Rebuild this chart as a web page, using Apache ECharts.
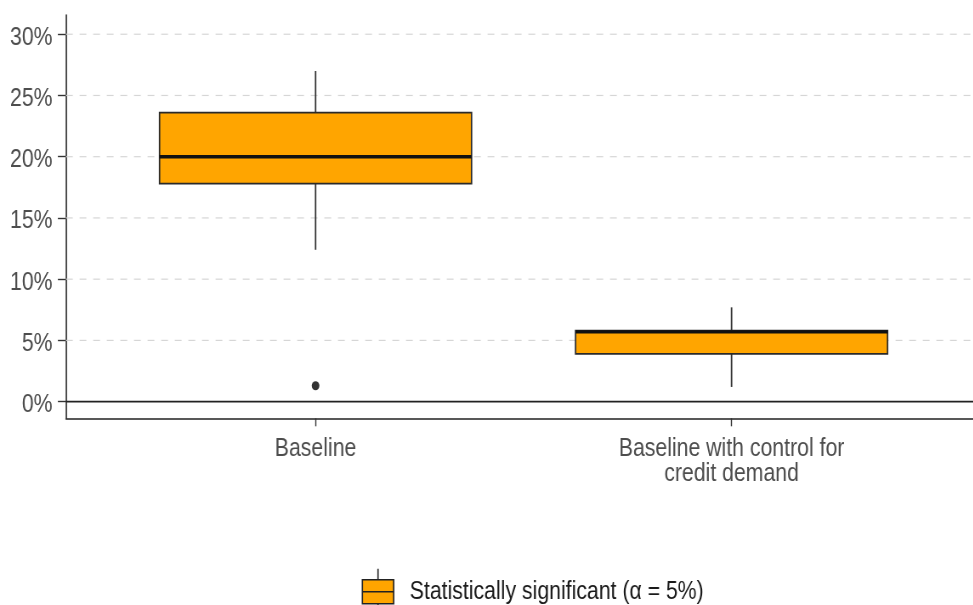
<!DOCTYPE html>
<html>
<head>
<meta charset="utf-8">
<script src="https://cdn.jsdelivr.net/npm/echarts@6/dist/echarts.min.js"></script>
<style>
  html, body { margin: 0; padding: 0; width: 973px; height: 605px; overflow: hidden; background: #fff; }
  /* the figure is drawn on a wider canvas and condensed horizontally */
  #chart { width: 1170px; height: 605px; transform: scaleX(0.85); transform-origin: 0 0; }
</style>
</head>
<body>
<div id="chart"></div>
<script>
// Categories on the x axis
const categories = ['Baseline', 'Baseline with control for\ncredit demand'];
// Box statistics per category, in %: [lower whisker, Q1, median, Q3, upper whisker]
const baselineStats = [12.4, 17.8, 20.0, 23.6, 27.0];
const creditDemandStats = [1.2, 3.9, 5.7, 5.8, 7.7];
// Outlying estimates: [category position, value %]
const outlierPoints = [[1, 1.3]];
// Y axis tick values (%)
const yTicks = [0, 5, 10, 15, 20, 25, 30];
const seriesName = 'Statistically significant (\u03b1 = 5%)';

const FONT = '"Liberation Sans", Arial, sans-serif';
const ORANGE = '#FFA500';
const X_MIN = 0.4, X_MAX = 2.6;

const boxData = [baselineStats, creditDemandStats].map((s, i) => [i + 1].concat(s));

const chart = echarts.init(document.getElementById('chart'));

chart.setOption({
  animation: false,
  backgroundColor: '#ffffff',
  grid: { left: 77.6, top: 15, width: 1076.7, height: 403.3, containLabel: false },
  xAxis: {
    type: 'value',
    min: X_MIN,
    max: X_MAX,
    axisLine: { show: true, onZero: false, lineStyle: { color: '#222', width: 1.6 } },
    axisTick: { show: true, customValues: [1, 2], length: 8, lineStyle: { color: '#333', width: 1.4 } },
    axisLabel: {
      show: true,
      customValues: [1, 2],
      formatter: v => categories[Math.round(v) - 1] || '',
      margin: 18,
      fontFamily: FONT,
      fontSize: 25,
      lineHeight: 25,
      color: '#4d4d4d',
      align: 'center'
    },
    splitLine: { show: false }
  },
  yAxis: {
    type: 'value',
    min: -1.36,
    max: 31.57,
    axisLine: { show: true, onZero: false, lineStyle: { color: '#222', width: 1.6 } },
    axisTick: { show: true, customValues: yTicks, length: 9.5, lineStyle: { color: '#333', width: 1.4 } },
    axisLabel: {
      show: true,
      customValues: yTicks,
      formatter: v => '{t|' + v + '%}',
      margin: 15.8,
      rich: {
        t: { fontFamily: FONT, fontSize: 25, color: '#4d4d4d', padding: [7, 0, 0, 0] }
      }
    },
    splitLine: { show: false }
  },
  legend: {
    left: 425.5,
    top: 568,
    padding: 0,
    itemWidth: 36.8,
    itemHeight: 46,
    selectedMode: false,
    data: [{
      name: seriesName,
      icon: 'path://M18.4,0V11M0,11H36.8V35H0ZM0,23H36.8M18.4,35V46',
      itemStyle: { color: ORANGE, borderColor: '#222', borderWidth: 1.6 }
    }],
    textStyle: { fontFamily: FONT, fontSize: 25, color: '#1a1a1a', padding: [0, 0, 0, 14] }
  },
  series: [
    {
      // dashed major gridlines and the solid zero reference line
      type: 'custom',
      z: 1,
      silent: true,
      encode: { y: 0 },
      data: yTicks.map(v => [v]),
      renderItem: (params, api) => {
        const v = api.value(0);
        const a = api.coord([X_MIN, v]);
        const b = api.coord([X_MAX, v]);
        const style = v === 0
          ? { stroke: '#222', lineWidth: 1.6 }
          : { stroke: '#d6d6d6', lineWidth: 1.2, lineDash: [8, 8] };
        return { type: 'line', shape: { x1: a[0], y1: a[1], x2: b[0], y2: b[1] }, style };
      }
    },
    {
      name: seriesName,
      type: 'custom',
      z: 3,
      itemStyle: { color: ORANGE },
      encode: { x: 0, y: [1, 2, 3, 4, 5] },
      data: boxData,
      renderItem: (params, api) => {
        const x = api.value(0);
        const lo = api.coord([x, api.value(1)]);
        const q1 = api.coord([x, api.value(2)]);
        const md = api.coord([x, api.value(3)]);
        const q3 = api.coord([x, api.value(4)]);
        const hi = api.coord([x, api.value(5)]);
        const w = api.size([0.75, 0])[0];
        const cx = lo[0];
        const whisker = { stroke: '#333', lineWidth: 1.8 };
        return {
          type: 'group',
          children: [
            { type: 'line', shape: { x1: cx, y1: hi[1], x2: cx, y2: q3[1] }, style: whisker },
            { type: 'line', shape: { x1: cx, y1: q1[1], x2: cx, y2: lo[1] }, style: whisker },
            { type: 'rect', shape: { x: cx - w / 2, y: q3[1], width: w, height: q1[1] - q3[1] },
              style: { fill: ORANGE, stroke: '#2a2a2a', lineWidth: 1.7 } },
            { type: 'line', shape: { x1: cx - w / 2, y1: md[1], x2: cx + w / 2, y2: md[1] },
              style: { stroke: '#111', lineWidth: 3.4 } }
          ]
        };
      }
    },
    {
      type: 'scatter',
      z: 4,
      symbol: 'circle',
      symbolSize: 9,
      itemStyle: { color: '#000' },
      data: outlierPoints
    }
  ]
});
</script>
</body>
</html>
